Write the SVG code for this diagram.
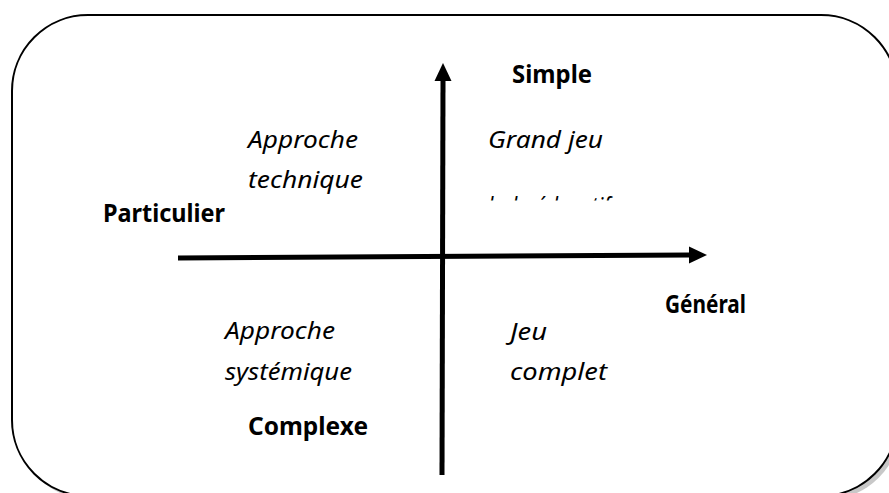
<svg xmlns="http://www.w3.org/2000/svg" width="889" height="493" viewBox="0 0 889 493">
<style>
.b{font-family:"Noto Sans","Open Sans",sans-serif;font-weight:bold;font-size:25px;fill:#000}
.i{font-family:"Noto Sans","Open Sans",sans-serif;font-style:italic;font-size:24px;fill:#000}
.ax{stroke:#000;stroke-width:5;fill:none}
</style>
<defs>
<clipPath id="clipTop"><rect x="470" y="180" width="200" height="20.5"/></clipPath>
</defs>
<rect width="889" height="493" fill="#fff"/>
<g id="frame">
<rect x="16" y="19" width="885" height="481" rx="76" ry="76" fill="#c8c8c8"/>
<rect x="12" y="15" width="885" height="481" rx="76" ry="76" fill="#fff" stroke="#000" stroke-width="2"/>
</g>
<g id="connectors">
<line class="ax" x1="178" y1="258" x2="690" y2="255"/>
<polygon points="689,246.5 707,255 689,263.5" fill="#000"/>
<line class="ax" x1="442" y1="475" x2="443" y2="80"/>
<polygon points="434.5,81 443,63 451.5,81" fill="#000"/>
</g>
<g id="simple"><text class="b" x="512" y="83" textLength="80" lengthAdjust="spacingAndGlyphs">Simple</text></g>
<g id="particulier"><text class="b" x="103" y="222" textLength="122" lengthAdjust="spacingAndGlyphs">Particulier</text></g>
<g id="general"><text class="b" x="665" y="313" textLength="81" lengthAdjust="spacingAndGlyphs">Général</text></g>
<g id="complexe"><text class="b" x="248" y="435" textLength="120" lengthAdjust="spacingAndGlyphs">Complexe</text></g>
<g id="approche-technique">
<text class="i" x="248" y="148" textLength="110" lengthAdjust="spacingAndGlyphs">Approche</text>
<text class="i" x="248" y="188" textLength="115" lengthAdjust="spacingAndGlyphs">technique</text>
</g>
<g id="grand-jeu">
<text class="i" x="488" y="148" textLength="115" lengthAdjust="spacingAndGlyphs">Grand jeu</text>
<text class="i" x="488" y="214" textLength="122" lengthAdjust="spacingAndGlyphs" clip-path="url(#clipTop)">ludo-éducatif</text>
</g>
<g id="approche-systemique">
<text class="i" x="225" y="339" textLength="110" lengthAdjust="spacingAndGlyphs">Approche</text>
<text class="i" x="225" y="380" textLength="127" lengthAdjust="spacingAndGlyphs">systémique</text>
</g>
<g id="jeu-complet">
<text class="i" x="510" y="340" textLength="37" lengthAdjust="spacingAndGlyphs">Jeu</text>
<text class="i" x="510" y="380" textLength="97" lengthAdjust="spacingAndGlyphs">complet</text>
</g>
</svg>
